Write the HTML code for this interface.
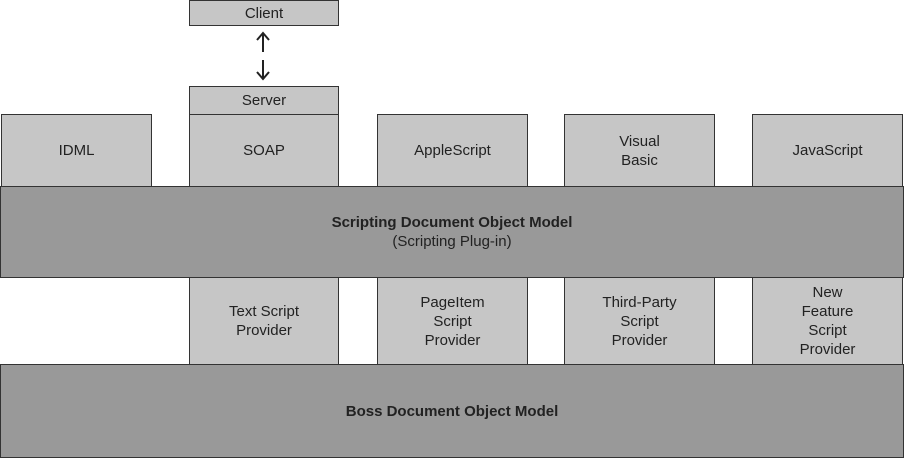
<!DOCTYPE html>
<html><head><style>
body{margin:0;width:904px;height:459px;background:#fff;position:relative;font-family:"Liberation Sans",sans-serif;font-size:15px;color:#222;overflow:hidden}
.b{position:absolute;box-sizing:border-box;border:1.5px solid #333;background:#c6c6c6;display:flex;align-items:center;justify-content:center;text-align:center;line-height:19px}
.d{background:#999}
</style></head><body>
<div class="b" style="left:189px;top:0;width:150px;height:26px">Client</div>
<svg style="position:absolute;left:250px;top:28px" width="30" height="56">
<g stroke="#222" stroke-width="2" fill="none">
<line x1="13" y1="6" x2="13" y2="24"/><polyline points="7,12 13,5 19,12"/>
<line x1="13" y1="32" x2="13" y2="50"/><polyline points="7,44 13,51 19,44"/>
</g></svg>
<div class="b" style="left:189px;top:86px;width:150px;height:29px">Server</div>
<div class="b" style="left:189px;top:114px;width:150px;height:73px">SOAP</div>
<div class="b" style="left:1px;top:114px;width:151px;height:73px">IDML</div>
<div class="b" style="left:377px;top:114px;width:151px;height:73px">AppleScript</div>
<div class="b" style="left:564px;top:114px;width:151px;height:73px">Visual<br>Basic</div>
<div class="b" style="left:752px;top:114px;width:151px;height:73px">JavaScript</div>
<div class="b d" style="left:0;top:186px;width:904px;height:92px"><div><b>Scripting Document Object Model</b><br>(Scripting Plug-in)</div></div>
<div class="b" style="left:189px;top:277px;width:150px;height:88px">Text Script<br>Provider</div>
<div class="b" style="left:377px;top:277px;width:151px;height:88px">PageItem<br>Script<br>Provider</div>
<div class="b" style="left:564px;top:277px;width:151px;height:88px">Third-Party<br>Script<br>Provider</div>
<div class="b" style="left:752px;top:277px;width:151px;height:88px">New<br>Feature<br>Script<br>Provider</div>
<div class="b d" style="left:0;top:364px;width:904px;height:94px"><b>Boss Document Object Model</b></div>
</body></html>
